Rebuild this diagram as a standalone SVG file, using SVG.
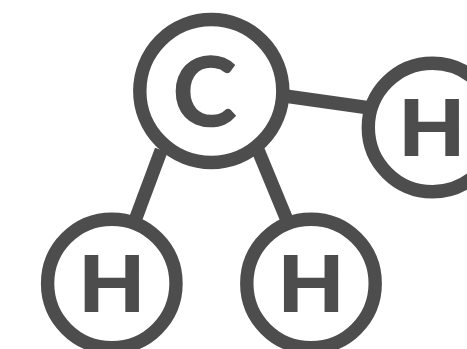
<svg xmlns="http://www.w3.org/2000/svg" width="467" height="349" viewBox="0 0 467 349">
<style>
.ring{fill:#fff;stroke:#4d4d4d;stroke-width:13.4}
.bond{fill:none;stroke:#4d4d4d;stroke-width:13.4}
.t{font-family:"Inter","Liberation Sans",sans-serif;font-weight:600;fill:#4d4d4d;text-anchor:middle;stroke:#4d4d4d;stroke-width:2;stroke-linejoin:miter}
.c{font-family:"Lato","Liberation Sans",sans-serif;font-weight:700;font-size:96px;stroke-width:1.5}
.h{font-size:76px}
</style>
<rect width="467" height="349" fill="#fff"/>
<g id="connectors">
<line class="bond" x1="161.3" y1="150" x2="135.2" y2="220"/>
<line class="bond" x1="258" y1="150" x2="289" y2="225"/>
<line class="bond" x1="285" y1="96" x2="370" y2="108"/>
</g>
<g id="node-c"><circle class="ring" cx="211.3" cy="91" r="71.5"/>
<text class="t c" transform="translate(204.5,125.5)">C</text></g>
<g id="node-h1"><circle class="ring" cx="111.8" cy="283.5" r="64.2"/>
<text class="t h" transform="translate(111.7,310.7) scale(1.14,1)">H</text></g>
<g id="node-h2"><circle class="ring" cx="311" cy="283.5" r="64.2"/>
<text class="t h" transform="translate(311,310.7) scale(1.14,1)">H</text></g>
<g id="node-h3"><circle class="ring" cx="432.5" cy="127.5" r="64.2"/>
<text class="t h" transform="translate(431.7,154.7) scale(1.14,1)">H</text></g>
</svg>
